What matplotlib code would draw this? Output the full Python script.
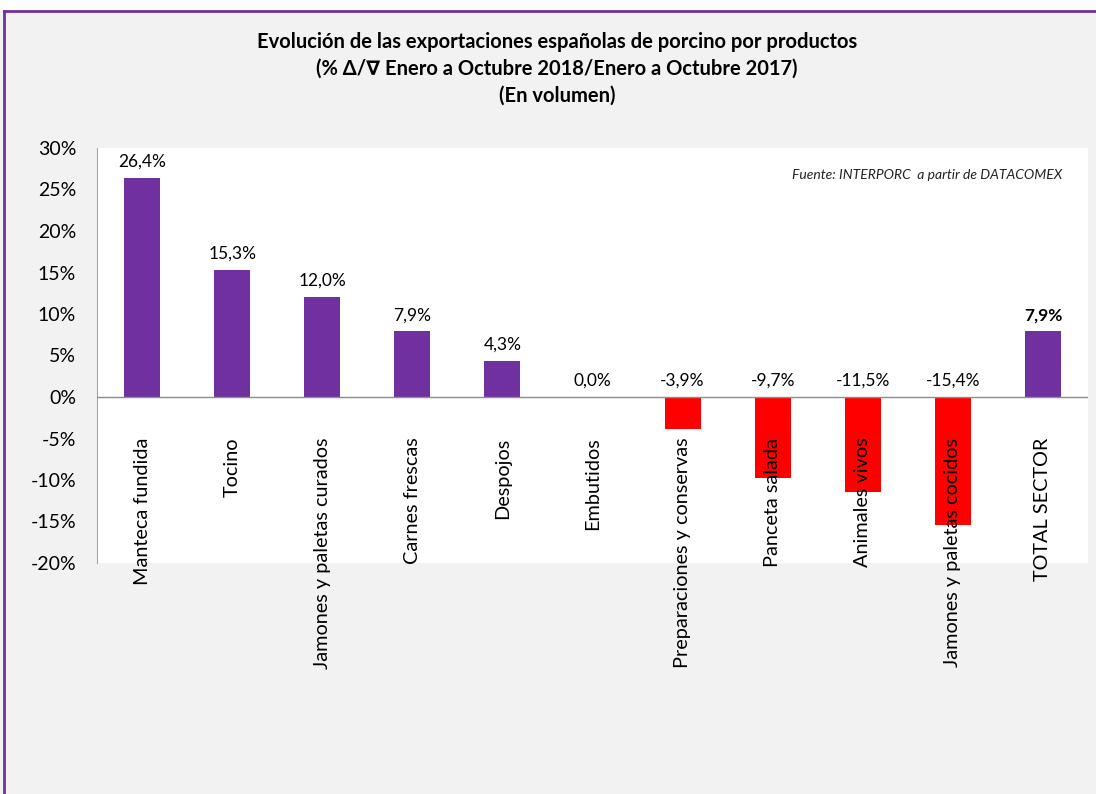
import matplotlib
matplotlib.use("Agg")
import matplotlib.pyplot as plt
from matplotlib.patches import Rectangle
from matplotlib.lines import Line2D

plt.rcParams['font.family'] = ['Lato', 'DejaVu Sans']

categories = ["Manteca fundida", "Tocino", "Jamones y paletas curados", "Carnes frescas",
              "Despojos", "Embutidos", "Preparaciones y conservas", "Panceta salada",
              "Animales vivos", "Jamones y paletas cocidos", "TOTAL SECTOR"]
values = [26.4, 15.3, 12.0, 7.9, 4.3, 0.0, -3.9, -9.7, -11.5, -15.4, 7.9]
labels = ["26,4%", "15,3%", "12,0%", "7,9%", "4,3%", "0,0%", "-3,9%", "-9,7%",
          "-11,5%", "-15,4%", "7,9%"]
yticks = [-20, -15, -10, -5, 0, 5, 10, 15, 20, 25, 30]

PURPLE = "#7030A0"
RED = "#FF0000"

W, H = 1096, 794
fig = plt.figure(figsize=(W / 100, H / 100), dpi=100)
fig.patch.set_facecolor("#F2F2F2")

# white top strip and purple border
fig.add_artist(Rectangle((0, 1 - 11 / H), 1, 11 / H, transform=fig.transFigure,
                         facecolor="white", edgecolor="none", zorder=0))
fig.add_artist(Line2D([4 / W, 1], [1 - 11 / H, 1 - 11 / H], transform=fig.transFigure,
                      color=PURPLE, lw=2))
fig.add_artist(Line2D([4 / W, 4 / W], [0, 1 - 11 / H], transform=fig.transFigure,
                      color=PURPLE, lw=2))

left, right, top, bottom = 97, 1088, 148, 563
ax = fig.add_axes([left / W, 1 - bottom / H, (right - left) / W, (bottom - top) / H])
ax.set_facecolor("white")

x = list(range(len(categories)))
colors = [PURPLE if v >= 0 else RED for v in values]
ax.bar(x, values, width=0.4, color=colors, zorder=2)

ax.set_xlim(-0.5, len(categories) - 0.5)
ax.set_ylim(-20, 30)
ax.set_yticks(yticks)
ax.set_yticklabels([f"{t}%" for t in yticks], fontsize=14)
ax.tick_params(axis='y', length=0, pad=15)
ax.set_xticks([])
for s in ["top", "right", "bottom"]:
    ax.spines[s].set_visible(False)
ax.spines["left"].set_color("#A6A6A6")
ax.axhline(0, color="#8C8C8C", lw=1, zorder=3)

for i, (v, lab) in enumerate(zip(values, labels)):
    yv = max(v, 0) + 1.0
    weight = "bold" if i == len(values) - 1 else "normal"
    ax.text(i, yv, lab, ha="center", va="bottom", fontsize=12.5, fontweight=weight,
            color="black")
    ax.text(i, -4.9, categories[i], rotation=90, ha="center", va="top", fontsize=14.3,
            color="black")

ax.text((1062 - left) / (right - left), 0.935, "Fuente: INTERPORC  a partir de DATACOMEX",
        transform=ax.transAxes, ha="right", va="center", fontsize=10, style="italic",
        color="#222222")

title_lines = ["Evolución de las exportaciones españolas de porcino por productos",
               "(% \u0394/\u2207 Enero a Octubre 2018/Enero a Octubre 2017)",
               "(En volumen)"]
for k, t in enumerate(title_lines):
    fig.text(557 / W, 1 - (42 + 27 * k) / H, t, ha="center", va="center",
             fontsize=14.5, fontweight="bold")

fig.savefig("out.png", dpi=100, facecolor=fig.get_facecolor())
